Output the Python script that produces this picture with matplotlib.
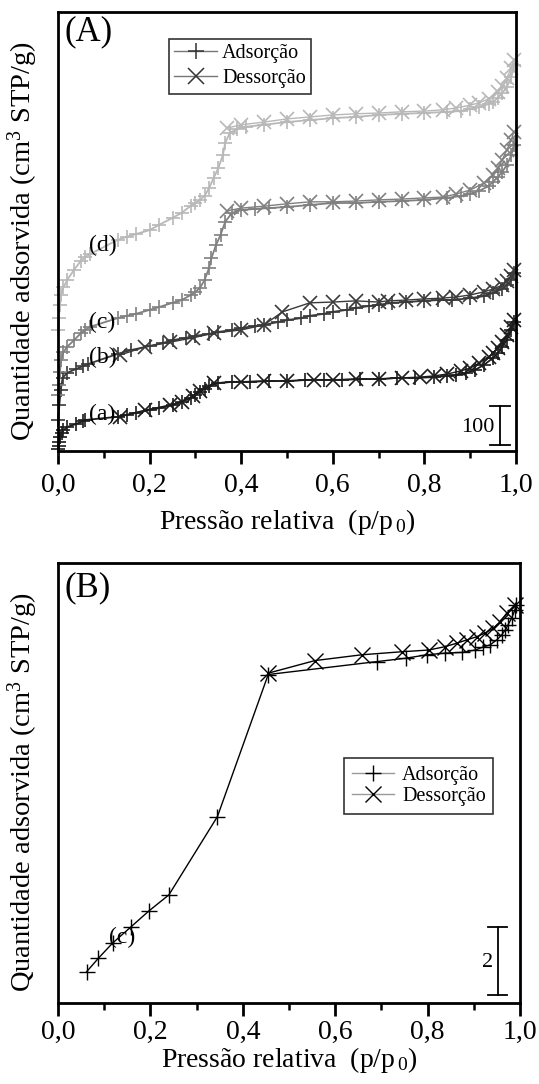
import matplotlib
matplotlib.use("Agg")
import matplotlib.pyplot as plt
from matplotlib.lines import Line2D
from matplotlib.ticker import MultipleLocator

plt.rcParams['font.family'] = ['Liberation Serif', 'DejaVu Serif']
plt.rcParams['mathtext.fontset'] = 'custom'
plt.rcParams['mathtext.rm'] = 'Liberation Serif'
plt.rcParams['mathtext.it'] = 'Liberation Serif:italic'

# ---------------- Panel A data (cm3 STP/g, curves offset) ----------------
a_ads_p = [0.001, 0.002, 0.003, 0.005, 0.008, 0.012, 0.02, 0.04, 0.055, 0.06, 0.13, 0.15, 0.17, 0.2, 0.22,
           0.25, 0.27, 0.29, 0.30, 0.31, 0.32, 0.33, 0.35, 0.38, 0.42, 0.46, 0.5, 0.54, 0.58, 0.62, 0.66,
           0.7, 0.74, 0.78, 0.82, 0.85, 0.87, 0.89, 0.91, 0.93, 0.95, 0.96, 0.97, 0.98, 0.99, 0.995]
a_ads_v = [5, 13, 23, 36, 46, 53, 61, 69, 76, 79, 87, 92, 97, 104, 109,
           117, 125, 135, 143, 150, 158, 165, 173, 176, 176, 178, 178, 181, 181, 181, 183,
           183, 186, 186, 188, 191, 193, 198, 206, 219, 237, 249, 265, 282, 308, 328]
a_des_p = [0.995, 0.99, 0.98, 0.97, 0.96, 0.95, 0.94, 0.92, 0.90, 0.88, 0.85, 0.82, 0.79, 0.75, 0.70,
           0.65, 0.60, 0.56, 0.50, 0.45, 0.40, 0.34, 0.31, 0.295, 0.27, 0.245, 0.19, 0.135]
a_des_v = [333, 316, 295, 277, 262, 249, 239, 224, 211, 204, 196, 191, 188, 186, 183,
           183, 181, 181, 178, 178, 176, 173, 153, 140, 125, 117, 104, 87]

b_ads_p = [0.001, 0.003, 0.006, 0.01, 0.02, 0.04, 0.055, 0.065, 0.13, 0.16, 0.2, 0.23, 0.25, 0.28, 0.3,
           0.33, 0.35, 0.38, 0.4, 0.43, 0.45, 0.48, 0.5, 0.53, 0.55, 0.58, 0.6, 0.63, 0.65, 0.68, 0.7,
           0.73, 0.76, 0.8, 0.83, 0.86, 0.9, 0.93, 0.95, 0.97, 0.98, 0.99, 0.995]
b_ads_v = [79, 117, 155, 186, 199, 209, 216, 221, 247, 257, 267, 275, 282, 288, 293,
           298, 303, 308, 313, 318, 321, 328, 333, 338, 344, 349, 354, 359, 364, 369, 372,
           377, 379, 382, 384, 384, 389, 394, 402, 412, 422, 435, 453]
b_des_p = [0.995, 0.99, 0.98, 0.97, 0.95, 0.93, 0.9, 0.87, 0.84, 0.8, 0.76, 0.72, 0.7, 0.65, 0.6,
           0.55, 0.49, 0.45, 0.40, 0.34, 0.295, 0.245, 0.19, 0.135]
b_des_v = [461, 445, 433, 422, 412, 405, 397, 392, 389, 387, 384, 382, 379, 382, 379,
           377, 354, 321, 308, 300, 288, 277, 265, 244]

c_ads_p = [0.001, 0.002, 0.004, 0.007, 0.012, 0.02, 0.035, 0.05, 0.06, 0.07, 0.13, 0.15, 0.17, 0.2, 0.22,
           0.25, 0.27, 0.29, 0.3, 0.31, 0.32, 0.33, 0.335, 0.345, 0.355, 0.365, 0.38, 0.4, 0.43, 0.46,
           0.5, 0.55, 0.6, 0.65, 0.7, 0.75, 0.8, 0.85, 0.88, 0.9, 0.92, 0.94, 0.95, 0.96, 0.97, 0.98,
           0.99, 0.995]
c_ads_v = [143, 168, 201, 232, 252, 265, 282, 300, 308, 316, 338, 344, 349, 359, 366,
           377, 384, 397, 405, 415, 435, 466, 491, 524, 550, 583, 606, 613, 616, 618,
           621, 626, 631, 631, 634, 636, 639, 644, 649, 654, 662, 674, 685, 697, 710, 728,
           753, 779]
c_des_p = [0.995, 0.99, 0.98, 0.97, 0.96, 0.95, 0.93, 0.9, 0.87, 0.84, 0.8, 0.75, 0.7, 0.65, 0.6,
           0.55, 0.5, 0.45, 0.4, 0.37]
c_des_v = [812, 792, 766, 741, 720, 702, 682, 664, 654, 646, 644, 641, 639, 636, 634,
           634, 629, 623, 618, 611]

d_ads_p = [0.001, 0.002, 0.004, 0.007, 0.012, 0.02, 0.035, 0.05, 0.06, 0.07, 0.13, 0.15, 0.17, 0.2, 0.22,
           0.25, 0.27, 0.29, 0.3, 0.31, 0.32, 0.33, 0.34, 0.35, 0.36, 0.365, 0.375, 0.39, 0.41, 0.45,
           0.5, 0.55, 0.6, 0.65, 0.7, 0.75, 0.8, 0.85, 0.88, 0.9, 0.92, 0.94, 0.95, 0.96, 0.97, 0.98,
           0.99, 0.995]
d_ads_v = [308, 338, 372, 397, 417, 435, 461, 484, 494, 501, 537, 545, 552, 562, 575,
           593, 606, 624, 631, 639, 649, 669, 695, 720, 753, 784, 809, 819, 825, 830,
           837, 842, 847, 850, 855, 858, 860, 863, 865, 870, 875, 883, 888, 898, 911, 926,
           952, 982]
d_des_p = [0.995, 0.99, 0.98, 0.97, 0.96, 0.94, 0.92, 0.9, 0.87, 0.84, 0.8, 0.75, 0.7, 0.65, 0.6,
           0.55, 0.5, 0.45, 0.4, 0.37]
d_des_v = [995, 975, 949, 929, 914, 896, 886, 880, 873, 868, 865, 863, 860, 858, 855,
           850, 845, 837, 830, 822]

curve_labels_A = ['(a)', '(b)', '(c)', '(d)']
curve_colors_A = ['#1c1c1c', '#3a3a3a', '#808080', '#b8b8b8']
label_y_A = [92, 237, 328, 524]

# ---------------- Panel B data ----------------
e_ads_p = [0.062, 0.087, 0.118, 0.158, 0.197, 0.240, 0.345, 0.455, 0.690, 0.753, 0.798, 0.838, 0.874,
           0.903, 0.920, 0.935, 0.950, 0.960, 0.968, 0.974, 0.982, 0.989, 0.991]
e_ads_v = [0.92, 1.31, 1.76, 2.24, 2.71, 3.18, 5.48, 9.66, 10.04, 10.14, 10.24, 10.29, 10.31,
           10.38, 10.47, 10.53, 10.68, 10.82, 10.97, 11.12, 11.32, 11.56, 11.71]
e_des_p = [0.989, 0.971, 0.957, 0.942, 0.924, 0.906, 0.885, 0.863, 0.838, 0.802, 0.744, 0.657,
           0.556, 0.455]
e_des_v = [11.71, 11.46, 11.21, 11.02, 10.88, 10.77, 10.68, 10.58, 10.48, 10.38, 10.33, 10.24,
           10.07, 9.70]

xticks = [0.0, 0.2, 0.4, 0.6, 0.8, 1.0]
xticklabels = ['0,0', '0,2', '0,4', '0,6', '0,8', '1,0']
legend_labels = ['Adsorção', 'Dessorção']
ylabel = 'Quantidade adsorvida (cm$^3$ STP/g)'
xlabel = 'Pressão relativa  (p/p$_{\\,0}$)'

W, H = 539, 1084
fig = plt.figure(figsize=(W / 100, H / 100), dpi=100)


def ax_rect(x0, y0, x1, y1):
    return [x0 / W, 1 - y1 / H, (x1 - x0) / W, (y1 - y0) / H]


def style_axes(ax, tickpad, labpad, ylab_y):
    for s in ax.spines.values():
        s.set_linewidth(2)
    ax.set_xlim(0, 1)
    ax.set_xticks(xticks)
    ax.set_xticklabels(xticklabels)
    ax.xaxis.set_minor_locator(MultipleLocator(0.1))
    ax.tick_params(axis='x', which='major', direction='out', length=9, width=2,
                   labelsize=20, pad=tickpad)
    ax.tick_params(axis='x', which='minor', direction='out', length=5, width=1.8)
    ax.set_yticks([])
    ax.set_xlabel(xlabel, fontsize=20, labelpad=labpad)
    ax.set_ylabel(ylabel, fontsize=20.5)
    ax.yaxis.set_label_coords(-0.04, ylab_y)


def make_legend(ax, handles, anchor, bpad, lspace, hlen, htpad):
    leg = ax.legend(handles, legend_labels, loc='upper left', bbox_to_anchor=anchor,
                    fontsize=14.5, frameon=True, fancybox=False, handlelength=hlen,
                    borderpad=bpad, labelspacing=lspace, handletextpad=htpad,
                    borderaxespad=0)
    leg.get_frame().set_edgecolor('black')
    leg.get_frame().set_linewidth(1.2)
    return leg


# ---------------- Panel A ----------------
axA = fig.add_axes(ax_rect(58, 12, 516, 451))
series_A = [(a_ads_p, a_ads_v, a_des_p, a_des_v),
            (b_ads_p, b_ads_v, b_des_p, b_des_v),
            (c_ads_p, c_ads_v, c_des_p, c_des_v),
            (d_ads_p, d_ads_v, d_des_p, d_des_v)]
for (ap, av, dp, dv), col in zip(series_A, curve_colors_A):
    axA.plot(ap, av, color=col, lw=1.3, marker='+', ms=10, mew=1.2, clip_on=False)
    axA.plot(dp, dv, color=col, lw=1.0, marker='x', ms=10, mew=1.2, clip_on=False)
for lab, ly in zip(curve_labels_A, label_y_A):
    axA.text(0.068, ly, lab, fontsize=17, ha='left', va='center', color='black')
axA.set_ylim(0, 1117)
style_axes(axA, tickpad=7, labpad=6, ylab_y=0.478)
axA.text(0.015, 0.955, '(A)', transform=axA.transAxes, fontsize=25, ha='left', va='center')
# scale bar (100 units)
axA.plot([0.965, 0.965], [15, 115], color='black', lw=1.3)
axA.plot([0.943, 0.987], [15, 15], color='black', lw=1.3)
axA.plot([0.943, 0.987], [115, 115], color='black', lw=1.3)
axA.text(0.954, 61, '100', fontsize=16, ha='right', va='center')
hA = [Line2D([], [], color='#777777', lw=1, marker='+', ms=11, mec='#333333', mew=1.1),
      Line2D([], [], color='#777777', lw=1, marker='x', ms=11, mec='#333333', mew=1.1)]
make_legend(axA, hA, (0.242, 0.938), bpad=0.25, lspace=0.3, hlen=2.15, htpad=0.25)

# ---------------- Panel B ----------------
axB = fig.add_axes(ax_rect(58, 563, 520, 1003))
axB.plot(e_ads_p, e_ads_v, color='black', lw=1.0, marker='+', ms=11, mew=1.0, clip_on=False)
axB.plot(e_des_p, e_des_v, color='black', lw=1.0, marker='x', ms=11, mew=1.0, clip_on=False)
axB.text(0.11, 1.94, '(c)', fontsize=17, ha='left', va='center')
axB.set_ylim(0, 12.94)
style_axes(axB, tickpad=3, labpad=0, ylab_y=0.48)
axB.text(0.015, 0.943, '(B)', transform=axB.transAxes, fontsize=25, ha='left', va='center')
axB.plot([0.952, 0.952], [0.235, 2.235], color='black', lw=1.3)
axB.plot([0.931, 0.972], [0.235, 0.235], color='black', lw=1.3)
axB.plot([0.931, 0.972], [2.235, 2.235], color='black', lw=1.3)
axB.text(0.942, 1.2, '2', fontsize=16, ha='right', va='center')
hB = [Line2D([], [], color='#999999', lw=1, marker='+', ms=11, mec='black', mew=1.0),
      Line2D([], [], color='#999999', lw=1, marker='x', ms=11, mec='black', mew=1.0)]
make_legend(axB, hB, (0.619, 0.557), bpad=0.38, lspace=0.12, hlen=2.1, htpad=0.4)

fig.savefig('out.png', dpi=100)
